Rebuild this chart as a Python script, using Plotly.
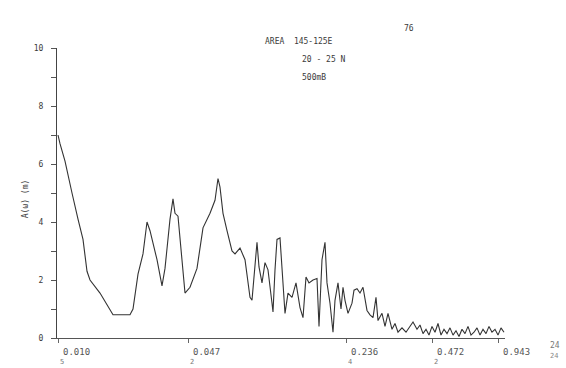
import plotly.graph_objects as go

# harmonic index (k) and amplitude A(omega)
k = [1, 3, 8, 11, 15, 21, 26, 30, 33, 43, 56, 73, 76, 81, 86, 90, 93, 100, 105, 108,
     113, 116, 118, 121, 125, 128, 133, 140, 146, 153, 158, 161, 163, 166, 170, 175, 178, 183,
     188, 193, 195, 198, 200, 202, 205, 208, 211, 215, 216, 218, 220, 223, 225, 228, 231,
     235, 239, 243, 246, 249, 252, 256, 260, 262, 265, 268, 270, 273, 276, 278, 281, 284,
     286, 288, 291, 295, 297, 300, 303, 306, 310, 313, 316, 319, 321, 325, 328, 331, 335,
     338, 341, 345, 349, 353, 356, 360, 363, 366, 369, 372, 375, 378, 381, 384, 387, 390,
     393, 396, 399, 402, 405, 408, 411, 414, 417, 420, 423, 426, 429, 432, 435, 438, 441,
     444, 447]
amp = [7.0, 6.7, 6.1, 5.6, 5.0, 4.1, 3.4, 2.3, 2.0, 1.55, 0.8, 0.8, 1.0, 2.2, 2.9, 4.0, 3.7,
       2.7, 1.8, 2.4, 4.1, 4.8, 4.3, 4.2, 2.8, 1.55, 1.75, 2.4, 3.8, 4.3, 4.75, 5.5, 5.2,
       4.3, 3.7, 3.0, 2.9, 3.1, 2.7, 1.4, 1.3, 2.6, 3.3, 2.45, 1.9, 2.6, 2.35, 1.2, 0.9,
       2.35, 3.4, 3.45, 2.35, 0.85, 1.55, 1.4, 1.9, 1.05, 0.7, 2.1, 1.9, 2.0, 2.05, 0.4,
       2.7, 3.3, 1.9, 1.2, 0.2, 1.3, 1.9, 1.0, 1.75, 1.3, 0.85, 1.2, 1.65, 1.7, 1.55, 1.75,
       0.95, 0.8, 0.7, 1.4, 0.6, 0.85, 0.4, 0.85, 0.3, 0.5, 0.2, 0.35, 0.2, 0.4, 0.55, 0.3,
       0.45, 0.15, 0.3, 0.1, 0.4, 0.2, 0.5, 0.1, 0.3, 0.15, 0.35, 0.1, 0.25, 0.05, 0.3,
       0.15, 0.4, 0.1, 0.2, 0.35, 0.1, 0.3, 0.15, 0.4, 0.2, 0.3, 0.1, 0.35, 0.2]

x_tick_vals = [1, 131, 289, 375, 441]
x_tick_text = ["0.010", "0.047", "0.236", "0.472", "0.943"]
x_sub_text = ["5", "2", "4", "2", ""]
y_tick_vals = list(range(0, 11))
y_tick_text = ["0", "", "2", "", "4", "", "6", "", "8", "", "10"]

FONT = "DejaVu Sans Mono"
INK = "#3a3a3a"

fig = go.Figure()
fig.add_trace(go.Scatter(x=k, y=amp, mode="lines",
                         line=dict(color="#333333", width=1.1), hoverinfo="skip"))

fig.update_layout(
    width=566, height=368,
    margin=dict(l=57, r=61, t=48, b=30),
    paper_bgcolor="white", plot_bgcolor="white",
    showlegend=False,
    font=dict(family=FONT, size=8, color=INK),
    xaxis=dict(range=[0, 448], showgrid=False, zeroline=False,
               showline=True, linecolor="#555", linewidth=1,
               tickvals=x_tick_vals, ticktext=[""] * len(x_tick_vals),
               ticks="outside", ticklen=4, tickcolor="#666"),
    yaxis=dict(range=[0, 10], showgrid=False, zeroline=False,
               showline=True, linecolor="#444", linewidth=1,
               tickvals=y_tick_vals, ticktext=y_tick_text,
               ticks="outside", ticklen=5, tickcolor="#555",
               ticklabelstandoff=6, tickfont=dict(size=8, color=INK)),
)

for v, t, s in zip(x_tick_vals, x_tick_text, x_sub_text):
    fig.add_annotation(x=v, y=0, xref="x", yref="y", text=t, showarrow=False,
                       xanchor="left", yanchor="top", xshift=3, yshift=-7,
                       font=dict(size=9, color="#555"))
    if s:
        fig.add_annotation(x=v, y=0, xref="x", yref="y", text=s, showarrow=False,
                           xanchor="left", yanchor="top", xshift=0, yshift=-18,
                           font=dict(size=7, color="#777"))

fig.add_annotation(x=548, y=352, xref="paper", yref="paper", text="24", showarrow=False,
                   xanchor="left", font=dict(size=8, color="#777"))
fig.add_annotation(x=548, y=362, xref="paper", yref="paper", text="24", showarrow=False,
                   xanchor="left", font=dict(size=7, color="#888"))

notes = [("AREA  145-125E", 263, 42), ("20 - 25 N", 300, 60), ("500mB", 300, 77), ("76", 402, 28)]
for txt, px, py in notes:
    fig.add_annotation(x=px, y=py, xref="paper", yref="paper", text=txt, showarrow=False,
                       xanchor="left", yanchor="middle", font=dict(size=8, color=INK))

# convert pixel-placed annotations into paper coordinates
pw, ph = 566 - 57 - 61, 368 - 48 - 30
for a in fig.layout.annotations:
    if a.xref == "paper":
        a.x = (a.x - 57) / pw
        a.y = (368 - 30 - a.y) / ph

fig.add_annotation(x=-0.085, y=0.48, xref="paper", yref="paper", text="A(ω) (m)",
                   showarrow=False, textangle=-90, font=dict(size=8, color=INK))

fig.write_html("out.html")
